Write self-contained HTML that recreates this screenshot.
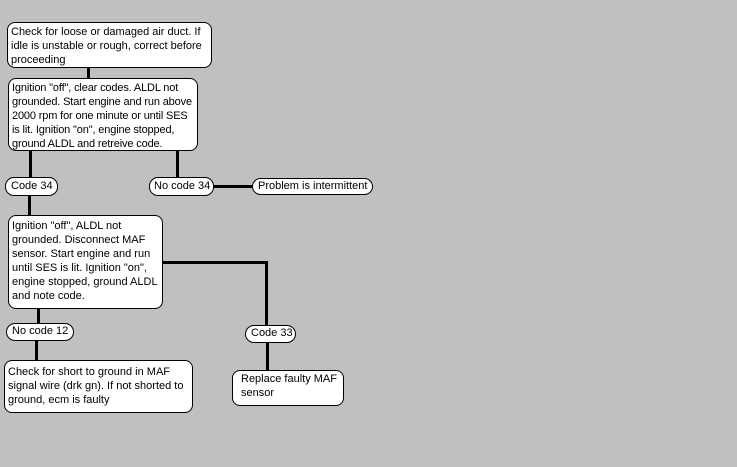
<!DOCTYPE html>
<html><head><meta charset="utf-8"><style>
body{margin:0;width:737px;height:467px;background:#c0c0c0;position:relative;overflow:hidden;font-family:"Liberation Sans",Arial,sans-serif;font-size:11px;line-height:14px;color:#000}
.b{position:absolute;background:#fff;border:1px solid #000;border-radius:8px;box-sizing:border-box;padding:2px 3px;white-space:nowrap}
.p{border-radius:9px;padding:1px 5px;line-height:14px}
.l{position:absolute;background:#000}
</style></head><body>
<div class="l" style="left:87px;top:66px;width:3px;height:13px"></div>
<div class="l" style="left:29px;top:149px;width:3px;height:29px"></div>
<div class="l" style="left:176px;top:149px;width:3px;height:29px"></div>
<div class="l" style="left:212px;top:185px;width:41px;height:3px"></div>
<div class="l" style="left:28px;top:194px;width:3px;height:22px"></div>
<div class="l" style="left:161px;top:261px;width:105px;height:3px"></div>
<div class="l" style="left:265px;top:261px;width:3px;height:65px"></div>
<div class="l" style="left:37px;top:307px;width:3px;height:17px"></div>
<div class="l" style="left:35px;top:339px;width:3px;height:22px"></div>
<div class="l" style="left:266px;top:341px;width:3px;height:30px"></div>

<div class="b" style="left:7px;top:22px;width:205px;height:46px">Check for loose or damaged air duct. If<br>idle is unstable or rough, correct before<br>proceeding</div>
<div class="b" style="left:8px;top:78px;width:190px;height:73px;letter-spacing:-0.15px">Ignition "off", clear codes. ALDL not<br>grounded. Start engine and run above<br>2000 rpm for one minute or until SES<br>is lit. Ignition "on", engine stopped,<br>ground ALDL and retreive code.</div>
<div class="b p" style="left:5px;top:177px;width:53px;height:19px">Code 34</div>
<div class="b p" style="left:149px;top:177px;width:65px;height:19px;padding-left:4px">No code 34</div>
<div class="b p" style="left:252px;top:178px;width:121px;height:17px;padding-top:0">Problem is intermittent</div>
<div class="b" style="left:8px;top:215px;width:155px;height:94px;padding-top:3px">Ignition "off", ALDL not<br>grounded. Disconnect MAF<br>sensor. Start engine and run<br>until SES is lit. Ignition "on",<br>engine stopped, ground ALDL<br>and note code.</div>
<div class="b p" style="left:6px;top:323px;width:68px;height:18px;padding-top:0">No code 12</div>
<div class="b" style="left:4px;top:360px;width:189px;height:53px;padding-top:4px">Check for short to ground in MAF<br>signal wire (drk gn). If not shorted to<br>ground, ecm is faulty</div>
<div class="b p" style="left:245px;top:325px;width:51px;height:18px;padding-top:0">Code 33</div>
<div class="b" style="left:232px;top:370px;width:112px;height:36px;padding:1px 8px">Replace faulty MAF<br>sensor</div>
</body></html>
